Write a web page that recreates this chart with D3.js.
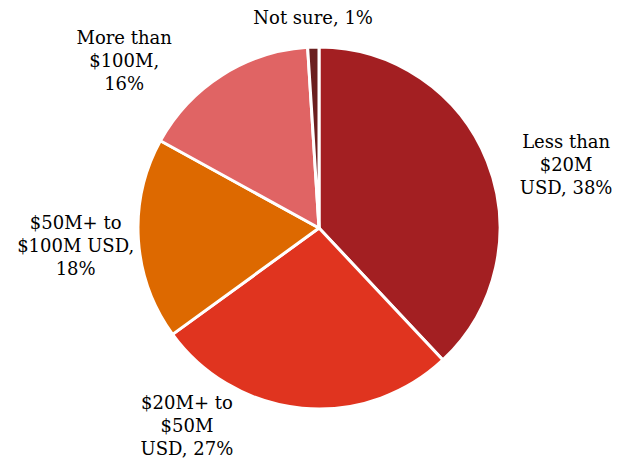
<!DOCTYPE html>
<html>
<head>
<meta charset="utf-8">
<script src="https://cdn.jsdelivr.net/npm/d3@7"></script>
<style>
  html, body { margin: 0; padding: 0; background: #fff; }
  svg { display: block; }
</style>
</head>
<body>
<div id="chart"></div>
<script>
// data
const categories = ['Less than $20M USD', '$20M+ to $50M USD', '$50M+ to $100M USD', 'More than $100M', 'Not sure'];
const values = [38, 27, 18, 16, 1];
const colors = ['#a31f22', '#e0341f', '#dd6900', '#e06464', '#6b1f1f'];
const labelLines = [
    ['Less than', '$20M', 'USD, 38%'],
    ['$20M+ to', '$50M', 'USD, 27%'],
    ['$50M+ to', '$100M USD,', '18%'],
    ['More than', '$100M,', '16%'],
    ['Not sure, 1%']
];

const width = 618, height = 460;
const cx = 319, cy = 228, radius = 181;

// where each label block sits: angle (deg, clockwise from top) and distance from centre
const labelPlace = [
    { angle: 75.7, dist: 255 },
    { angle: 213.7, dist: 238 },
    { angle: 265.8, dist: 244 },
    { angle: 310.7, dist: 257 },
    { angle: 358.4, dist: 210 }
];

const data = categories.map((c, i) => ({ category: c, value: values[i], color: colors[i], lines: labelLines[i] }));

const svg = d3.select('#chart').append('svg')
    .attr('width', width)
    .attr('height', height)
    .attr('viewBox', `0 0 ${width} ${height}`);

const plot = svg.append('g')
    .attr('transform', `translate(${cx},${cy})`);

const pie = d3.pie()
    .value(d => d.value)
    .sort(null);

const arc = d3.arc()
    .innerRadius(0)
    .outerRadius(radius);

const arcs = pie(data);

plot.selectAll('.slice')
    .data(arcs)
    .enter()
    .append('path')
    .classed('slice', true)
    .attr('d', arc)
    .attr('fill', d => d.data.color)
    .attr('stroke', 'white')
    .attr('stroke-width', 3)
    .attr('stroke-linejoin', 'round');

const lineHeight = 23;

const labels = plot.selectAll('.label')
    .data(arcs)
    .enter()
    .append('text')
    .classed('label', true)
    .attr('font-family', "Georgia, 'DejaVu Serif', serif")
    .attr('font-size', 18)
    .attr('fill', '#000')
    .attr('text-anchor', 'middle')
    .attr('transform', (d, i) => {
        const a = labelPlace[i].angle * Math.PI / 180;
        const x = Math.sin(a) * labelPlace[i].dist;
        const y = -Math.cos(a) * labelPlace[i].dist;
        return `translate(${x},${y})`;
    });

labels.selectAll('tspan')
    .data(d => d.data.lines.map((t, j, all) => ({ t, j, n: all.length })))
    .enter()
    .append('tspan')
    .attr('x', 0)
    .attr('y', d => (d.j - (d.n - 1) / 2) * lineHeight)
    .attr('dy', '0.35em')
    .text(d => d.t);
</script>
</body>
</html>
